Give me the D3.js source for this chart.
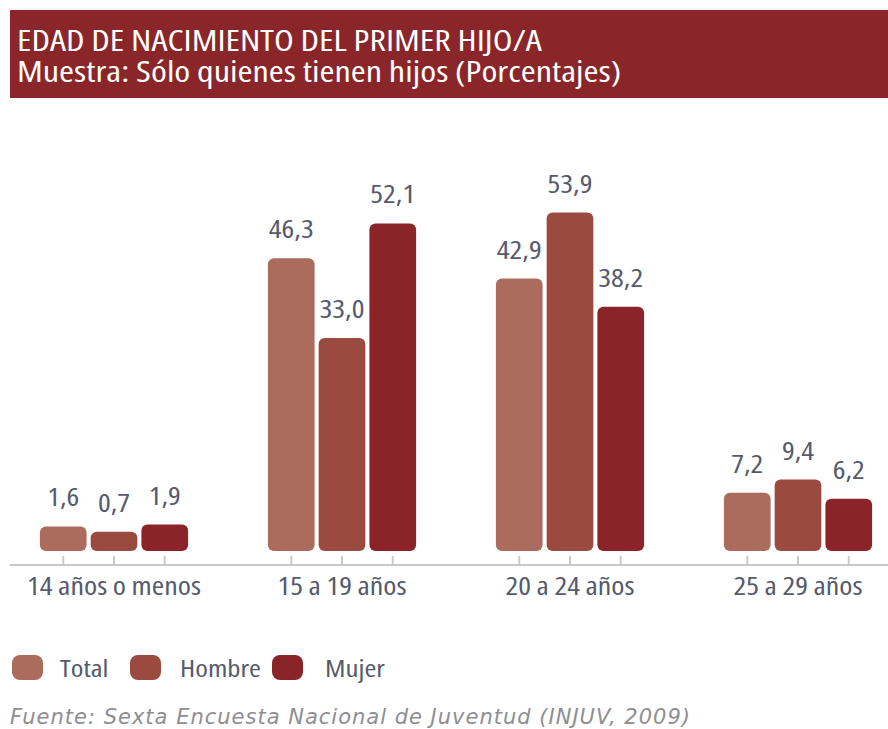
<!DOCTYPE html>
<html><head><meta charset="utf-8">
<script src="https://cdn.jsdelivr.net/npm/d3@7"></script>
<style>
html,body{margin:0;padding:0;background:#fff;}
svg{display:block;}
text{font-family:"Open Sans",sans-serif;font-stretch:condensed;}
text.src{font-family:"DejaVu Sans",sans-serif;font-stretch:normal;}
</style></head>
<body>
<svg id="chart" width="888" height="729"></svg>
<script>
const categories = ["14 años o menos", "15 a 19 años", "20 a 24 años", "25 a 29 años"];
const seriesNames = ["Total", "Hombre", "Mujer"];
const totalValues = [1.6, 46.3, 42.9, 7.2];
const hombreValues = [0.7, 33.0, 53.9, 9.4];
const mujerValues = [1.9, 52.1, 38.2, 6.2];
const colors = ["#ab6b5d", "#9a4a3f", "#8a2428"];
const titleLines = ["EDAD DE NACIMIENTO DEL PRIMER HIJO/A", "Muestra: Sólo quienes tienen hijos (Porcentajes)"];
const sourceText = "Fuente: Sexta Encuesta Nacional de Juventud (INJUV, 2009)";

const seriesValues = [totalValues, hombreValues, mujerValues];
const fmt = v => v.toFixed(1).replace(".", ",");
const SX = 1.2; // horizontal widening of the condensed face
const place = (px, py, sx = SX) => `translate(${px},${py}) scale(${sx},1)`;

const svg = d3.select("#chart");

// Title banner
svg.append("rect").attr("x", 10).attr("y", 10).attr("width", 878).attr("height", 88).attr("fill", "#8a2629");
const title = svg.append("text")
  .attr("transform", place(17, 51, 1.23))
  .attr("fill", "#fff").attr("font-size", 29.5);
title.selectAll("tspan").data(titleLines).enter().append("tspan")
  .attr("x", 0).attr("y", (d, i) => i * 31)
  .text(d => d);

const baseline = 551;
const axisY = 565;
const x = d3.scaleBand().domain(categories).range([0, 912]).paddingInner(0.35).paddingOuter(0.175);
const xs = d3.scaleBand().domain(seriesNames).range([0, x.bandwidth()]).paddingInner(0.08);
const y = d3.scaleLinear().domain([-2.5, 56]).range([baseline, baseline - 351]);

// Axis
const axisG = svg.append("g").attr("transform", `translate(0,${axisY})`);
axisG.append("line").attr("x1", 10).attr("x2", 888).attr("y1", 0).attr("y2", 0)
  .attr("stroke", "#c9c9cd").attr("stroke-width", 2);

const groups = svg.selectAll("g.grp").data(categories).enter().append("g")
  .attr("class", "grp").attr("transform", d => `translate(${x(d)},0)`);

seriesNames.forEach((s, si) => {
  const cx = xs(s) + xs.bandwidth() / 2;
  groups.append("line")
    .attr("x1", cx).attr("x2", cx)
    .attr("y1", axisY - 9).attr("y2", axisY)
    .attr("stroke", "#c9c9cd").attr("stroke-width", 2);
  groups.append("rect")
    .attr("x", xs(s)).attr("width", xs.bandwidth())
    .attr("y", (d, i) => y(seriesValues[si][i]))
    .attr("height", (d, i) => baseline - y(seriesValues[si][i]))
    .attr("rx", 6).attr("ry", 6)
    .attr("fill", colors[si]);
  groups.append("text")
    .attr("transform", (d, i) => place(cx, y(seriesValues[si][i]) - 20))
    .attr("text-anchor", "middle")
    .attr("font-size", 25).attr("fill", "#555a6c")
    .text((d, i) => fmt(seriesValues[si][i]));
});

groups.append("text")
  .attr("transform", place(x.bandwidth() / 2, 595))
  .attr("text-anchor", "middle").attr("font-size", 25).attr("fill", "#555a6c")
  .text(d => d);

// Legend
const legendX = [12, 130, 272];
const legend = svg.selectAll("g.leg").data(seriesNames).enter().append("g")
  .attr("class", "leg").attr("transform", (d, i) => `translate(${legendX[i]},655)`);
legend.append("rect").attr("width", 31).attr("height", 25).attr("rx", 8).attr("ry", 8)
  .attr("fill", (d, i) => colors[i]);
legend.append("text").attr("transform", (d, i) => place([48, 50, 53][i], 22))
  .attr("font-size", 24).attr("fill", "#555a6c").text(d => d);

// Source
svg.append("text").attr("class", "src").attr("x", 10).attr("y", 724)
  .attr("font-size", 21).attr("font-style", "italic").attr("fill", "#8e8e92")
  .style("letter-spacing", "1px")
  .text(sourceText);
</script>
</body></html>
